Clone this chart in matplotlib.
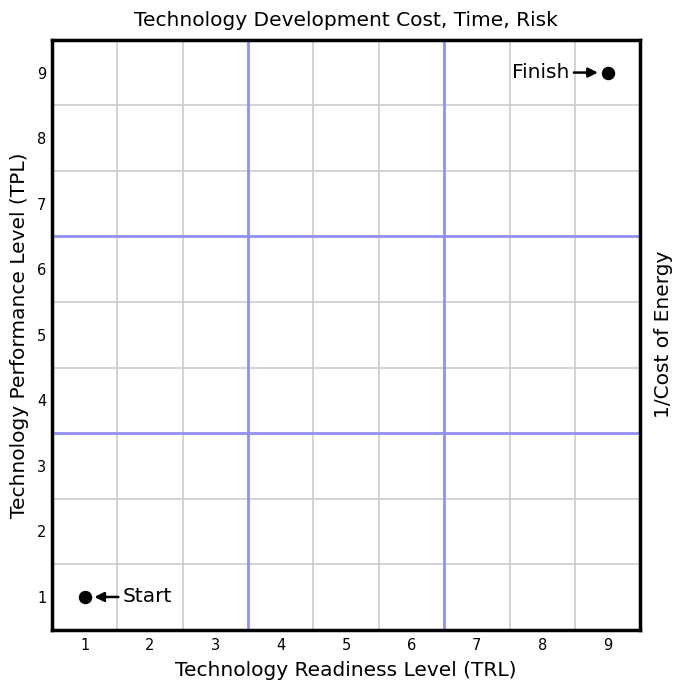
import numpy as np
import matplotlib.pyplot as plt

# Data
levels = [1, 2, 3, 4, 5, 6, 7, 8, 9]
grid_lines = [1.5, 2.5, 4.5, 5.5, 7.5, 8.5]
zone_lines = [3.5, 6.5]
start = (1, 1)
finish = (9, 9)

plt.rcParams['font.family'] = ['DejaVu Sans']

fig = plt.figure(figsize=(6.74, 6.86), dpi=100)
ax = fig.add_axes([0.077, 0.082, 0.873, 0.860])

ax.set_xlim(0.5, 9.5)
ax.set_ylim(0.5, 9.5)

for g in grid_lines:
    ax.axvline(g, color='#cccccc', lw=1.2, zorder=1)
    ax.axhline(g, color='#cccccc', lw=1.2, zorder=1)
for z in zone_lines:
    ax.axvline(z, color='#9090f8', lw=2, zorder=2)
    ax.axhline(z, color='#9090f8', lw=2, zorder=2)

ax.scatter([start[0], finish[0]], [start[1], finish[1]], s=75, color='black', zorder=5)

ax.annotate('Start', xy=start, xytext=(start[0] + 0.58, start[1]),
            fontsize=14.5, va='center', ha='left',
            arrowprops=dict(arrowstyle='-|>', color='black', lw=1.8,
                            shrinkA=1, shrinkB=7, mutation_scale=14))
ax.annotate('Finish', xy=finish, xytext=(finish[0] - 0.58, finish[1]),
            fontsize=14.5, va='center', ha='right',
            arrowprops=dict(arrowstyle='-|>', color='black', lw=1.8,
                            shrinkA=1, shrinkB=7, mutation_scale=14))

ax.set_xticks(levels)
ax.set_yticks(levels)
ax.tick_params(axis='x', length=0, labelsize=10.5, pad=6)
ax.tick_params(axis='y', length=0, labelsize=10.5, pad=4)

for s in ax.spines.values():
    s.set_linewidth(2.5)
    s.set_color('black')

ax.set_title('Technology Development Cost, Time, Risk', fontsize=14.5, pad=10)
ax.set_xlabel('Technology Readiness Level (TRL)', fontsize=14.5, labelpad=6)
ax.set_ylabel('Technology Performance Level (TPL)', fontsize=14.5, labelpad=6)
ax2 = ax.twinx()
ax2.set_yticks([])
ax2.set_ylabel('1/Cost of Energy', fontsize=14.5, labelpad=10)

fig.savefig('out.png', dpi=100)
